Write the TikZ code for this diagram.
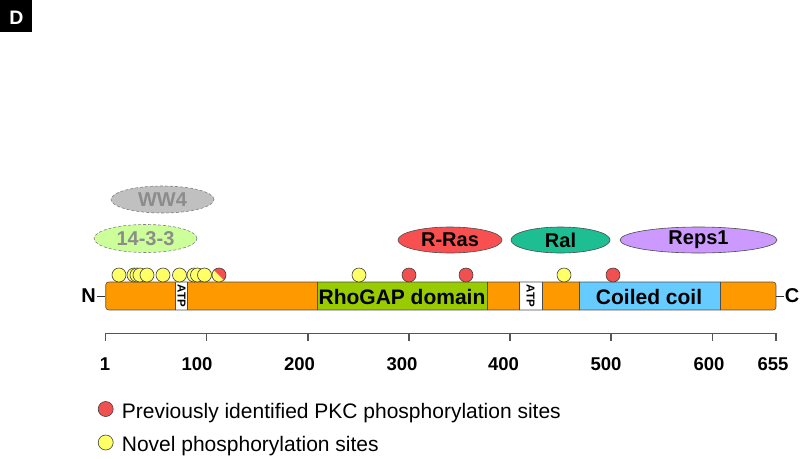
\documentclass[tikz,border=0pt]{standalone}
\usepackage{fontspec}
\setmainfont{Liberation Sans}
\usetikzlibrary{shapes.geometric}
\definecolor{barorange}{HTML}{FF9900}
\definecolor{gapgreen}{HTML}{99CC00}
\definecolor{ccblue}{HTML}{66CCFF}
\definecolor{sitered}{HTML}{F05050}
\definecolor{siteyellow}{HTML}{FFFF66}
\definecolor{rrasred}{HTML}{F85050}
\definecolor{ralgreen}{HTML}{1DBF92}
\definecolor{repspurple}{HTML}{CC99FF}
\definecolor{wwgray}{HTML}{C0C0C0}
\definecolor{lightgreen}{HTML}{CCFF99}
\definecolor{dimtext}{HTML}{8C8C8C}
\definecolor{axisgray}{HTML}{555555}
\begin{document}
\begin{tikzpicture}[x=1pt,y=-1pt,
  site/.style={circle, minimum size=14pt, inner sep=0pt, draw=black!75, line width=0.6pt},
  redsite/.style={site, fill=sitered},
  yelsite/.style={site, fill=siteyellow},
  partner/.style={ellipse, inner sep=0pt, minimum height=26pt, draw=black!70, line width=0.6pt,
     font=\fontsize{20}{24}\selectfont\bfseries, text=black},
  dashpartner/.style={partner, dash pattern=on 3pt off 2pt, draw=gray, text=dimtext},
  seg/.style={draw=black!70, line width=0.6pt},
  boxtext/.style={font=\fontsize{21}{24}\selectfont\bfseries, text=black, anchor=base, inner sep=0pt},
  atptext/.style={font=\fontsize{11.5}{12}\selectfont\bfseries, rotate=-90, inner sep=0pt},
  ticklabel/.style={font=\fontsize{18.5}{22}\selectfont\bfseries, anchor=base, inner sep=0pt},
  legendtext/.style={font=\fontsize{21}{24}\selectfont, anchor=base west, inner sep=0pt},
  endlabel/.style={font=\fontsize{20}{24}\selectfont\bfseries, inner sep=1pt},
  axisline/.style={draw=axisgray, line width=1.3pt}
]
\useasboundingbox (0,0) rectangle (800,458);

% panel letter
\fill[black] (0,0) rectangle (31.7,31.7);
\node[text=white, font=\fontsize{19.5}{22}\selectfont\bfseries, anchor=base, inner sep=0pt] (letter) at (16.5,24) {D};

% partner ellipses
\node[dashpartner, fill=wwgray, minimum width=103pt, minimum height=27pt] (ww4) at (162.5,199.5) {WW4};
\node[dashpartner, fill=lightgreen, minimum width=103pt, minimum height=28pt] (p1433) at (145.5,238.5) {14-3-3};
\node[partner, fill=rrasred, minimum width=104pt] (rras) at (450,240) {R-Ras};
\node[partner, fill=ralgreen, minimum width=99pt] (ral) at (560.5,240) {Ral};
\node[partner, fill=repspurple, minimum width=157pt] (reps) at (698.5,240) {Reps1};

% protein bar
\begin{scope}
\clip[rounded corners=3pt] (105.7,282) rectangle (776,310);
\fill[barorange] (105.7,282) rectangle (776,310);
\fill[white] (175.7,282) rectangle (187.3,310);
\fill[gapgreen] (317,282) rectangle (487,310);
\fill[white] (519,282) rectangle (542,310);
\fill[ccblue] (579,282) rectangle (720,310);
\end{scope}
\foreach \xx in {175.7,187.3,317,487,519,542,579,720}
  \draw[seg] (\xx,282) -- (\xx,310);
\node[seg, rounded corners=3pt, minimum width=670.3pt, minimum height=28pt, inner sep=0pt] (bar) at (440.85,296) {};

\node[boxtext] (gap) at (402,304.5) {RhoGAP domain};
\node[boxtext] (cc) at (649,304.5) {Coiled coil};
\node[atptext] (atp1) at (181.5,296) {ATP};
\node[atptext] (atp2) at (530.5,296) {ATP};

% termini
\node[endlabel] (nterm) at (88.5,296) {N};
\node[endlabel] (cterm) at (792,296) {C};
\draw[black!80, line width=0.8pt] (nterm.east) -- (bar.west);
\draw[black!80, line width=0.8pt] (bar.east) -- (cterm.west);

% phosphorylation sites
\node[yelsite] (s1) at (119,275) {};
\node[yelsite] (s2) at (134,275) {};
\node[yelsite] (s3) at (137,275) {};
\node[yelsite] (s4) at (140,275) {};
\node[yelsite] (s5) at (147,275) {};
\node[yelsite] (s6) at (163,275) {};
\node[yelsite] (s7) at (179.5,275) {};
\node[yelsite] (s8) at (194,275) {};
\node[yelsite] (s9) at (197.5,275) {};
\node[yelsite] (s10) at (204.5,275) {};
\node[yelsite, path picture={\fill[sitered] (path picture bounding box.north west) -- (path picture bounding box.north east) -- (path picture bounding box.south east) -- cycle;}] (s11) at (219,275) {};
\node[yelsite] (s12) at (359,275) {};
\node[redsite] (s13) at (409,275) {};
\node[redsite] (s14) at (466,275) {};
\node[yelsite] (s15) at (564,275) {};
\node[redsite] (s16) at (613,275) {};

% axis
\draw[axisline] (105.7,333.3) -- (776,333.3);
\foreach \tx/\lx/\lab in {105.7/105/1, 206.7/197/100, 308/299.5/200, 409/402/300, 510/503.5/400, 611/606/500, 712.3/709/600, 776/773/655}{
  \draw[axisline, line width=1.1pt] (\tx,333.3) -- (\tx,341);
  \node[ticklabel] at (\lx,370) {\lab};
}

% legend
\node[redsite, minimum size=15pt] (legred) at (105.7,409) {};
\node[legendtext] (legredtext) at (121.7,418) {Previously identified PKC phosphorylation sites};
\node[yelsite, minimum size=15pt] (legyel) at (105.7,442.5) {};
\node[legendtext] (legyeltext) at (121.7,451.5) {Novel phosphorylation sites};
\end{tikzpicture}
\end{document}
